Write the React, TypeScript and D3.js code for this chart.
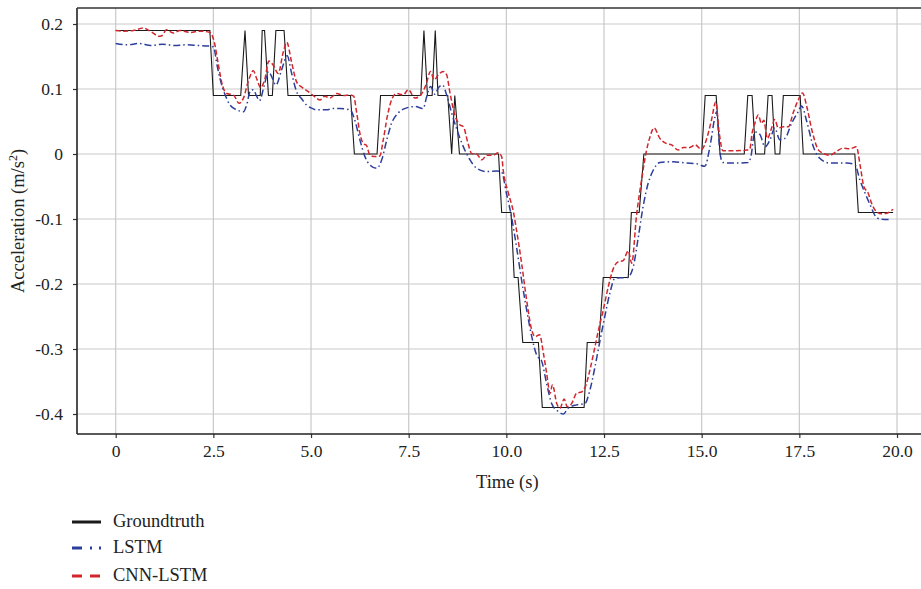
import React, { useEffect, useRef } from 'react';
import * as d3 from 'd3';

// time (s), acceleration (m/s^2)
const groundtruth: [number, number][] = [
  [0, 0.19], [2.41, 0.19], [2.5, 0.09], [3.2, 0.09], [3.31, 0.19], [3.4, 0.09], [3.7, 0.09],
  [3.75, 0.19], [3.81, 0.19], [3.91, 0.09], [4.01, 0.09], [4.1, 0.19], [4.31, 0.19], [4.41, 0.09],
  [6.01, 0.09], [6.11, 0], [6.69, 0], [6.78, 0.09], [7.81, 0.09], [7.89, 0.19], [7.98, 0.09],
  [8.1, 0.09], [8.18, 0.19], [8.25, 0.09], [8.5, 0.09], [8.6, 0], [8.68, 0.09], [8.8, 0],
  [9.8, 0], [9.88, -0.09], [10.12, -0.09], [10.2, -0.19], [10.3, -0.19], [10.42, -0.29],
  [10.82, -0.29], [10.92, -0.39], [11.99, -0.39], [12.07, -0.29], [12.37, -0.29], [12.48, -0.19],
  [13.12, -0.19], [13.2, -0.09], [13.4, -0.09], [13.52, 0], [15.0, 0], [15.09, 0.09],
  [15.37, 0.09], [15.47, 0], [16.09, 0], [16.18, 0.09], [16.29, 0.09], [16.38, 0], [16.61, 0],
  [16.7, 0.09], [16.8, 0.09], [16.88, 0], [17.0, 0], [17.09, 0.09], [17.52, 0.09], [17.6, 0],
  [18.92, 0], [19.01, -0.09], [19.9, -0.09],
];

const lstm: [number, number][] = [
  [0, 0.17], [0.3, 0.168], [0.6, 0.17], [0.9, 0.167], [1.2, 0.169], [1.5, 0.167], [1.8, 0.168],
  [2.1, 0.167], [2.4, 0.166], [2.5, 0.165], [2.6, 0.135], [2.67, 0.116], [2.8, 0.091],
  [2.93, 0.075], [3.1, 0.068], [3.27, 0.065], [3.35, 0.075], [3.44, 0.096], [3.52, 0.099],
  [3.6, 0.09], [3.68, 0.082], [3.8, 0.105], [3.91, 0.127], [4.0, 0.118], [4.1, 0.106],
  [4.25, 0.13], [4.39, 0.151], [4.5, 0.125], [4.63, 0.096], [4.76, 0.085], [4.89, 0.075],
  [5.0, 0.071], [5.14, 0.068], [5.4, 0.068], [5.57, 0.07], [5.74, 0.07], [6.0, 0.068],
  [6.12, 0.052], [6.25, 0.022], [6.38, -0.004], [6.51, -0.017], [6.68, -0.022], [6.81, -0.009],
  [6.94, 0.022], [7.06, 0.047], [7.23, 0.063], [7.45, 0.071], [7.66, 0.073], [7.87, 0.07],
  [7.96, 0.088], [8.06, 0.104], [8.17, 0.092], [8.26, 0.102], [8.37, 0.106], [8.47, 0.091],
  [8.6, 0.063], [8.72, 0.04], [8.9, 0.011], [9.07, -0.009], [9.24, -0.022], [9.5, -0.027],
  [9.75, -0.026], [9.88, -0.028], [10.0, -0.06], [10.13, -0.096], [10.26, -0.143],
  [10.39, -0.194], [10.52, -0.24], [10.65, -0.281], [10.78, -0.31], [10.9, -0.318],
  [11.03, -0.353], [11.16, -0.384], [11.33, -0.396], [11.46, -0.4], [11.58, -0.391],
  [11.8, -0.386], [12.01, -0.384], [12.14, -0.363], [12.27, -0.327], [12.4, -0.286],
  [12.52, -0.25], [12.65, -0.214], [12.78, -0.191], [13.1, -0.19], [13.25, -0.173],
  [13.38, -0.127], [13.5, -0.081], [13.63, -0.045], [13.76, -0.025], [13.93, -0.013],
  [14.27, -0.012], [14.61, -0.014], [14.87, -0.015], [15.08, -0.019], [15.21, 0.011],
  [15.34, 0.057], [15.38, 0.065], [15.47, 0.001], [15.54, -0.013], [15.8, -0.014],
  [16.19, -0.013], [16.26, -0.004], [16.36, 0.034], [16.49, 0.03], [16.62, 0.011],
  [16.75, 0.022], [16.87, 0.04], [17.0, 0.022], [17.13, 0.024], [17.3, 0.047], [17.47, 0.065],
  [17.56, 0.074], [17.69, 0.05], [17.86, 0.011], [18.03, -0.007], [18.28, -0.014],
  [18.71, -0.014], [18.92, -0.016], [19.05, -0.04], [19.18, -0.06], [19.31, -0.078],
  [19.43, -0.094], [19.56, -0.1], [19.86, -0.101],
];

const cnnLstm: [number, number][] = [
  [0, 0.19], [0.2, 0.189], [0.45, 0.19], [0.71, 0.194], [0.85, 0.19], [0.96, 0.186],
  [1.1, 0.181], [1.18, 0.182], [1.3, 0.191], [1.47, 0.186], [1.65, 0.19], [1.9, 0.187],
  [2.16, 0.189], [2.41, 0.187], [2.52, 0.173], [2.63, 0.137], [2.71, 0.111], [2.84, 0.093],
  [3.01, 0.091], [3.16, 0.078], [3.27, 0.086], [3.39, 0.111], [3.52, 0.128], [3.62, 0.114],
  [3.71, 0.102], [3.82, 0.116], [3.92, 0.143], [4.03, 0.137], [4.16, 0.124], [4.29, 0.157],
  [4.38, 0.172], [4.5, 0.142], [4.63, 0.111], [4.76, 0.103], [4.93, 0.096], [5.1, 0.088],
  [5.23, 0.083], [5.35, 0.089], [5.48, 0.086], [5.66, 0.093], [5.83, 0.09], [6.0, 0.091],
  [6.09, 0.089], [6.17, 0.063], [6.25, 0.032], [6.34, 0.016], [6.42, 0.013], [6.51, -0.002],
  [6.64, -0.004], [6.76, -0.003], [6.85, 0.022], [6.95, 0.057], [7.06, 0.083], [7.19, 0.093],
  [7.36, 0.091], [7.49, 0.099], [7.66, 0.086], [7.81, 0.091], [7.94, 0.106], [8.06, 0.127],
  [8.15, 0.114], [8.26, 0.122], [8.38, 0.127], [8.47, 0.122], [8.56, 0.093], [8.68, 0.06],
  [8.81, 0.045], [8.9, 0.042], [9.02, 0.016], [9.11, 0.001], [9.24, 0.0], [9.37, -0.009],
  [9.5, -0.002], [9.66, -0.002], [9.79, 0.002], [9.88, -0.004], [9.92, -0.025], [10.05, -0.06],
  [10.18, -0.089], [10.26, -0.117], [10.39, -0.168], [10.52, -0.225], [10.65, -0.271],
  [10.74, -0.281], [10.85, -0.278], [10.95, -0.307], [11.03, -0.337], [11.12, -0.368],
  [11.18, -0.355], [11.29, -0.384], [11.37, -0.391], [11.48, -0.377], [11.56, -0.389],
  [11.67, -0.384], [11.8, -0.368], [11.93, -0.366], [12.04, -0.355], [12.14, -0.332],
  [12.27, -0.296], [12.35, -0.273], [12.48, -0.24], [12.61, -0.204], [12.74, -0.176],
  [12.86, -0.166], [12.99, -0.164], [13.12, -0.149], [13.21, -0.168], [13.33, -0.096],
  [13.46, -0.04], [13.59, 0.006], [13.68, 0.027], [13.78, 0.04], [13.93, 0.024], [14.1, 0.016],
  [14.23, 0.014], [14.4, 0.006], [14.53, 0.01], [14.7, 0.01], [14.83, 0.014], [15.0, 0.007],
  [15.12, 0.022], [15.25, 0.052], [15.36, 0.08], [15.45, 0.032], [15.54, 0.005], [15.81, 0.005],
  [16.15, 0.006], [16.23, 0.007], [16.29, 0.032], [16.36, 0.047], [16.45, 0.06], [16.53, 0.047],
  [16.59, 0.052], [16.68, 0.024], [16.79, 0.04], [16.87, 0.053], [16.96, 0.04], [17.09, 0.042],
  [17.22, 0.042], [17.34, 0.063], [17.47, 0.083], [17.58, 0.094], [17.69, 0.073], [17.82, 0.037],
  [17.99, 0.006], [18.11, 0.001], [18.28, -0.002], [18.45, 0.004], [18.62, 0.009], [18.79, 0.008],
  [18.96, 0.011], [19.06, -0.019], [19.15, -0.05], [19.26, -0.06], [19.35, -0.076],
  [19.48, -0.089], [19.61, -0.092], [19.74, -0.091], [19.9, -0.085],
];

const xTicks = [0, 2.5, 5, 7.5, 10, 12.5, 15, 17.5, 20];
const xTickLabels = ['0', '2.5', '5.0', '7.5', '10.0', '12.5', '15.0', '17.5', '20.0'];
const yTicks = [0.2, 0.1, 0, -0.1, -0.2, -0.3, -0.4];
const yTickLabels = ['0.2', '0.1', '0', '-0.1', '-0.2', '-0.3', '-0.4'];

const seriesNames = ['Groundtruth', 'LSTM', 'CNN-LSTM'];
const seriesColors = ['#1a1a1a', '#2c3e9c', '#d0262c'];
const seriesDash = ['none', '7,3,1.5,3', '5,2.5'];

const W = 921;
const H = 589;
const FONT = '"Liberation Serif", "Times New Roman", serif';

const App = () => {
  const svgRef = useRef<SVGSVGElement>(null);

  useEffect(() => {
    const svg = d3.select(svgRef.current);
    svg.selectAll('*').remove();

    const left = 77, right = 921, top = 8, bottom = 434;

    const x = d3.scaleLinear().domain([-0.9907, 20.614]).range([left, right]);
    const y = d3.scaleLinear().domain([-0.43077, 0.22462]).range([bottom, top]);

    // grid
    const grid = svg.append('g').attr('stroke', '#c9c9c9').attr('stroke-width', 1.2);
    grid.selectAll('line.vx')
      .data(xTicks)
      .enter()
      .append('line')
      .attr('x1', d => x(d)).attr('x2', d => x(d))
      .attr('y1', top).attr('y2', bottom);
    grid.selectAll('line.hy')
      .data(yTicks)
      .enter()
      .append('line')
      .attr('x1', left).attr('x2', right)
      .attr('y1', d => y(d)).attr('y2', d => y(d));

    // axes
    const xAxis = d3.axisBottom(x)
      .tickValues(xTicks)
      .tickFormat((d, i) => xTickLabels[i])
      .tickSize(4)
      .tickSizeOuter(0)
      .tickPadding(7);
    const yAxis = d3.axisLeft(y)
      .tickValues(yTicks)
      .tickFormat((d, i) => yTickLabels[i])
      .tickSize(4)
      .tickSizeOuter(0)
      .tickPadding(10);

    const gx = svg.append('g').attr('transform', `translate(0,${bottom})`).call(xAxis);
    const gy = svg.append('g').attr('transform', `translate(${left},0)`).call(yAxis);
    [gx, gy].forEach(g => {
      g.select('.domain').remove();
      g.selectAll('line').attr('stroke', '#333').attr('stroke-width', 1.2);
      g.selectAll('text')
        .attr('font-family', FONT)
        .attr('font-size', 17.5)
        .attr('fill', '#222');
    });

    // spines
    svg.append('line').attr('x1', left).attr('x2', left).attr('y1', top).attr('y2', bottom)
      .attr('stroke', '#222').attr('stroke-width', 1.6);
    svg.append('line').attr('x1', left).attr('x2', right).attr('y1', bottom).attr('y2', bottom)
      .attr('stroke', '#222').attr('stroke-width', 1.6);
    svg.append('line').attr('x1', left).attr('x2', right).attr('y1', top).attr('y2', top)
      .attr('stroke', '#333').attr('stroke-width', 1.4);

    // series
    const lineLinear = d3.line<[number, number]>().x(d => x(d[0])).y(d => y(d[1]));
    const lineSmooth = d3.line<[number, number]>().x(d => x(d[0])).y(d => y(d[1]))
      .curve(d3.curveMonotoneX);

    const all = [groundtruth, lstm, cnnLstm];
    all.forEach((data, i) => {
      svg.append('path')
        .datum(data)
        .attr('d', i === 0 ? lineLinear : lineSmooth)
        .attr('fill', 'none')
        .attr('stroke', seriesColors[i])
        .attr('stroke-width', i === 0 ? 1.1 : 1.5)
        .attr('stroke-dasharray', seriesDash[i]);
    });

    // axis titles
    svg.append('text')
      .attr('x', x(10) + 1)
      .attr('y', 488)
      .attr('text-anchor', 'middle')
      .attr('font-family', FONT)
      .attr('font-size', 18.5)
      .attr('fill', '#222')
      .text('Time (s)');

    const yt = svg.append('text')
      .attr('transform', `translate(24,${(top + bottom) / 2}) rotate(-90)`)
      .attr('text-anchor', 'middle')
      .attr('font-family', FONT)
      .attr('font-size', 18.5)
      .attr('fill', '#222');
    yt.append('tspan').text('Acceleration (m/s');
    yt.append('tspan').attr('font-size', 12).attr('dy', -7).text('2');
    yt.append('tspan').attr('dy', 7).text(')');

    // legend
    const legendY = [522, 548, 576];
    seriesNames.forEach((name, i) => {
      svg.append('line')
        .attr('x1', 72).attr('x2', 101)
        .attr('y1', legendY[i]).attr('y2', legendY[i])
        .attr('stroke', seriesColors[i])
        .attr('stroke-width', 3)
        .attr('stroke-dasharray', i === 0 ? 'none' : i === 1 ? '10,8,2,7' : '10,8');
      svg.append('text')
        .attr('x', 113)
        .attr('y', legendY[i] + 5)
        .attr('font-family', FONT)
        .attr('font-size', 18.5)
        .attr('fill', '#222')
        .text(name);
    });
  }, []);

  return (
    <div style={{ position: 'absolute', left: 0, top: 0, width: W, height: H, background: '#fff' }}>
      <svg ref={svgRef} width={W} height={H}></svg>
    </div>
  );
};

export default App;
